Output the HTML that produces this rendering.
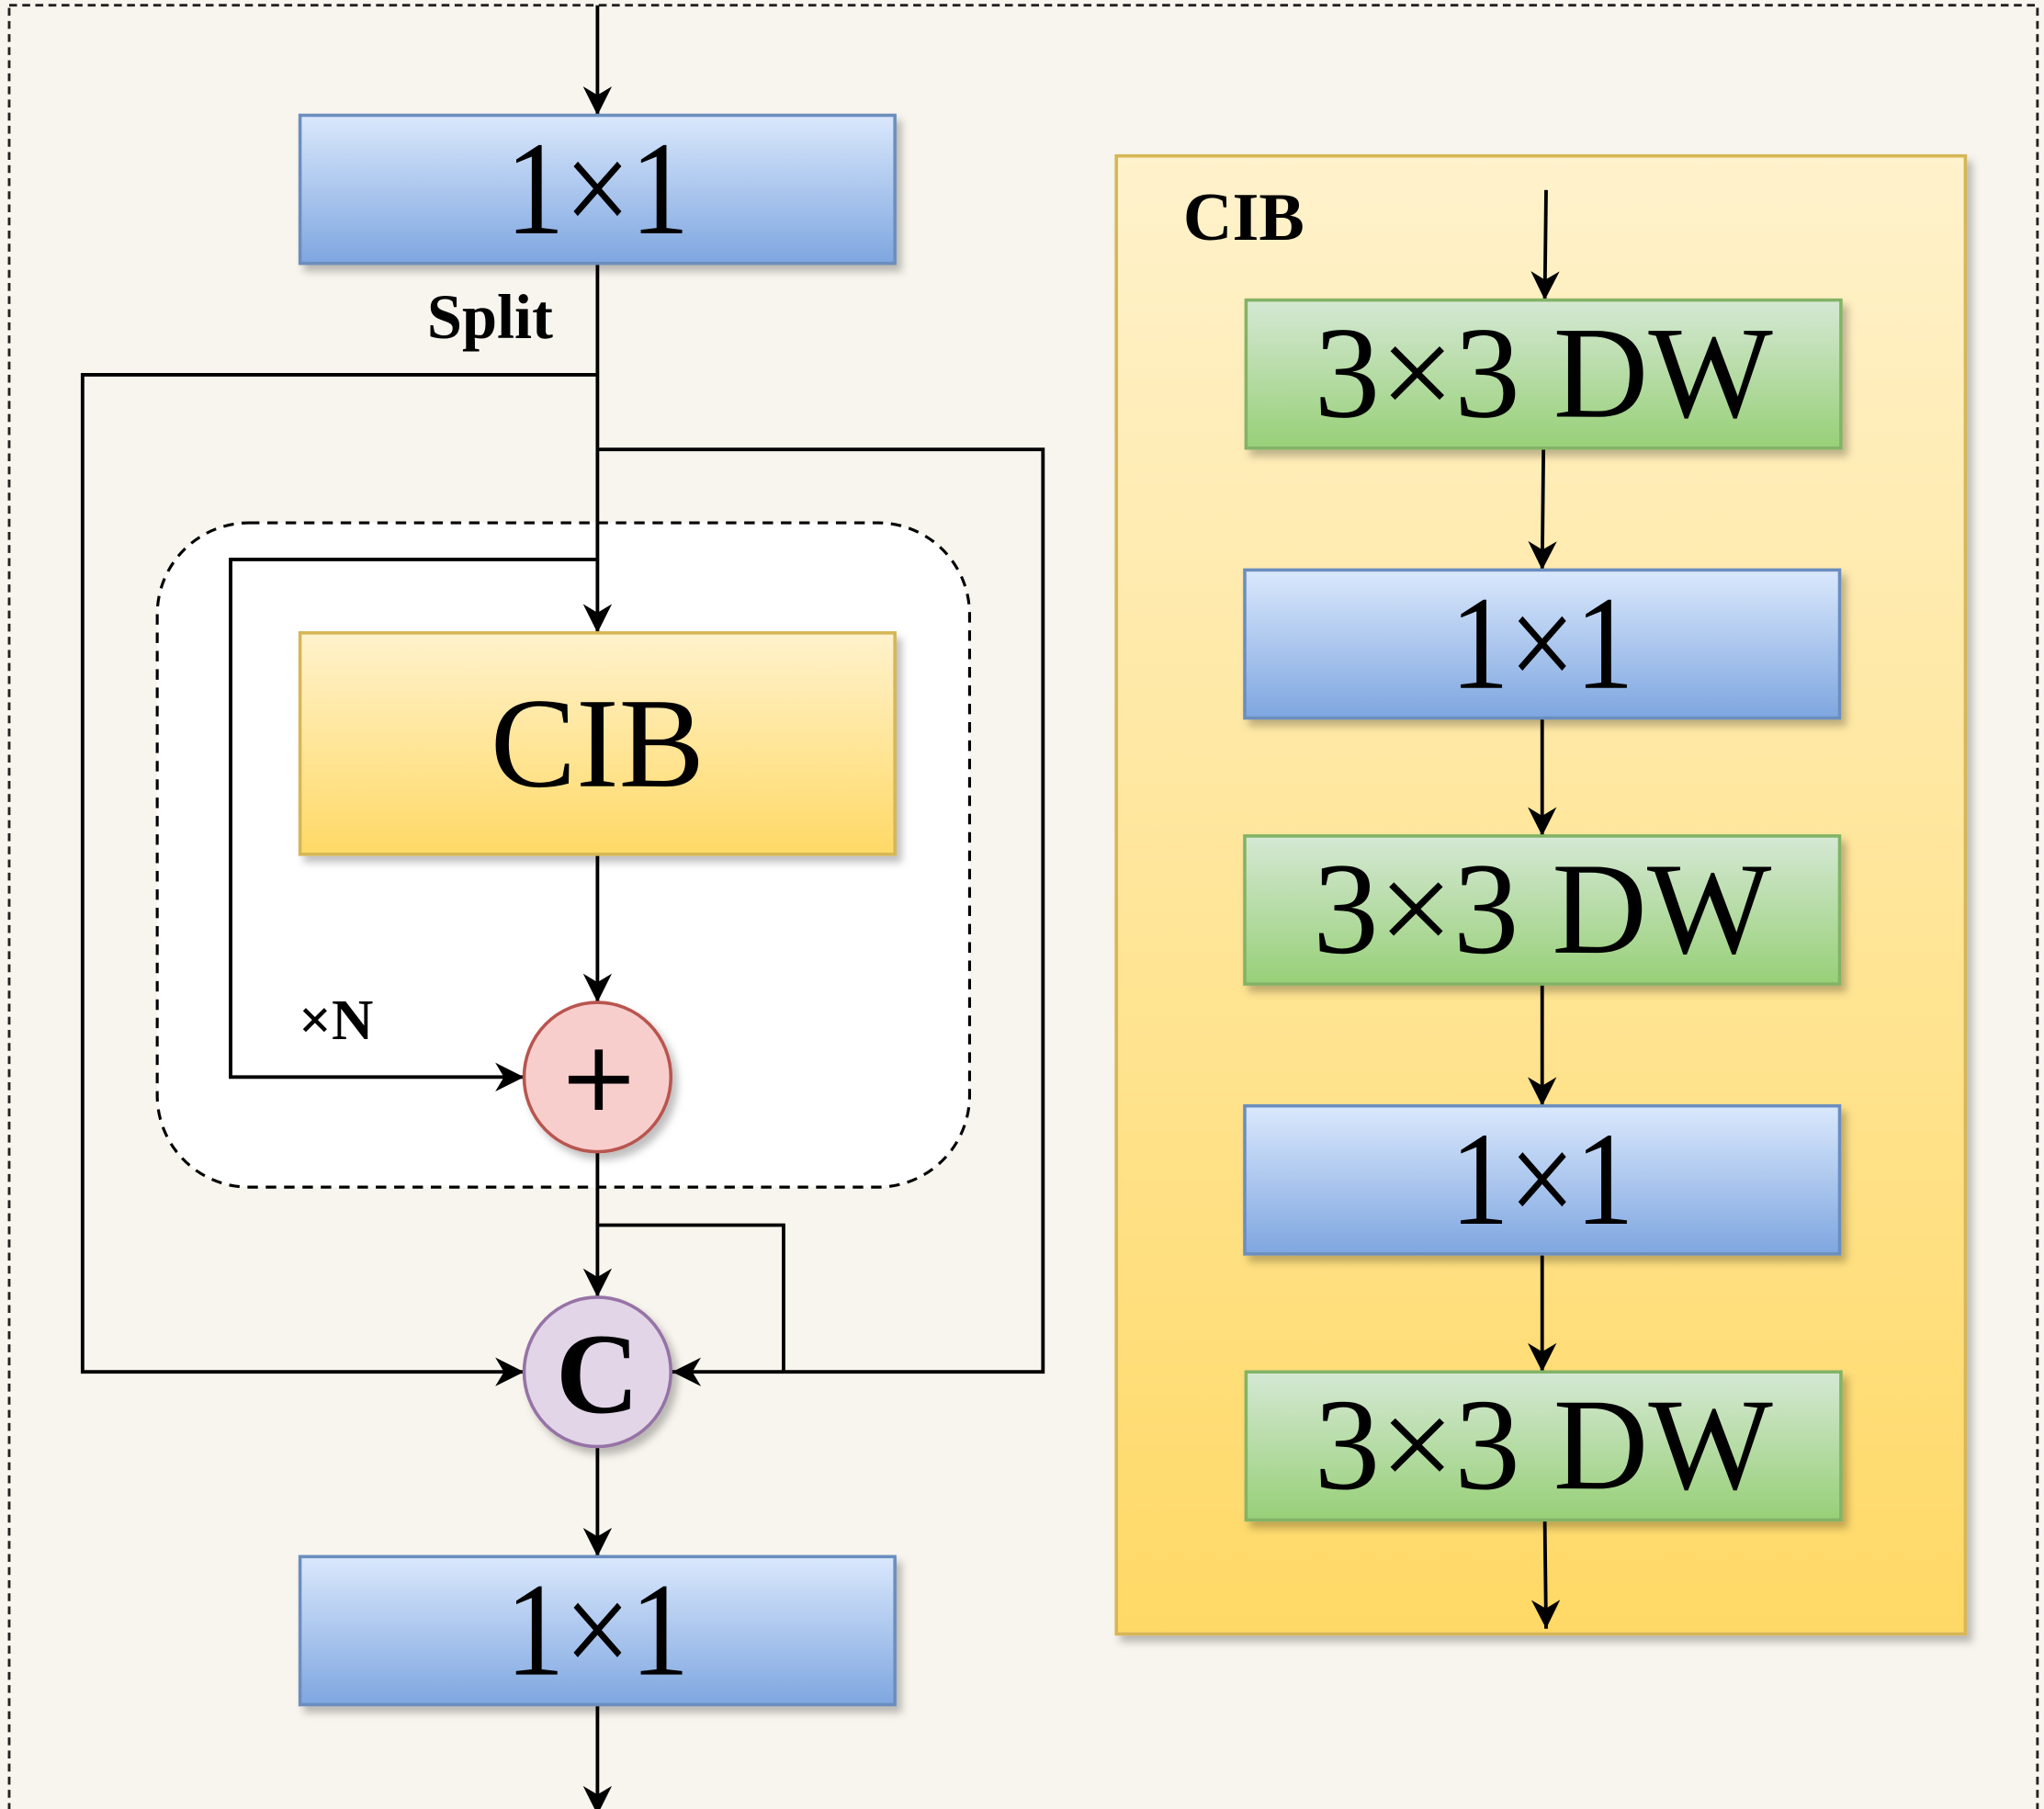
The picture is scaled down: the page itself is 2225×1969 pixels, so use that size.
<!DOCTYPE html>
<html><head><meta charset="utf-8"><style>html,body{margin:0;padding:0;background:#f8f5ee}svg{display:block}</style></head>
<body>
<svg width="2225" height="1969" viewBox="0 0 1560 1380.6" preserveAspectRatio="none" xmlns="http://www.w3.org/2000/svg" font-family="'Liberation Serif', serif">
<defs>
<linearGradient id="bl" x1="0" y1="0" x2="0" y2="1"><stop offset="0" stop-color="#dae8fc"/><stop offset="1" stop-color="#7ea6e0"/></linearGradient>
<linearGradient id="ye" x1="0" y1="0" x2="0" y2="1"><stop offset="0" stop-color="#fff2cc"/><stop offset="1" stop-color="#ffd966"/></linearGradient>
<linearGradient id="gr" x1="0" y1="0" x2="0" y2="1"><stop offset="0" stop-color="#d5e8d4"/><stop offset="1" stop-color="#97d077"/></linearGradient>
<filter id="sh" x="-10%" y="-10%" width="130%" height="140%"><feDropShadow dx="4" dy="5" stdDeviation="3" flood-color="#000" flood-opacity="0.25"/></filter>
<marker id="b" viewBox="0 0 20 20" markerWidth="22" markerHeight="22" refX="20" refY="10" orient="auto" markerUnits="userSpaceOnUse"><path d="M0,0 L20,10 L0,20 L6,10 z" fill="#000"/></marker>
</defs>
<rect x="0" y="0" width="1560" height="1381" fill="#f8f5ee"/>
<rect x="7" y="4" width="1548" height="1381" fill="none" stroke="#222" stroke-width="2" stroke-dasharray="6,4"/>

<rect x="120" y="399" width="620" height="507" rx="70" fill="#fff" stroke="#000" stroke-width="2.2" stroke-dasharray="8,6"/>

<g stroke="#000" stroke-width="2.7" fill="none">
<line x1="456" y1="4" x2="456" y2="88" marker-end="url(#b)"/>
<line x1="456" y1="201" x2="456" y2="483" marker-end="url(#b)"/>
<polyline points="456,286 63,286 63,1047 400,1047" marker-end="url(#b)"/>
<polyline points="456,343 796,343 796,1047 513,1047" marker-end="url(#b)"/>
<polyline points="456,427 176,427 176,822 400,822" marker-end="url(#b)"/>
<line x1="456" y1="652" x2="456" y2="765" marker-end="url(#b)"/>
<line x1="456" y1="878" x2="456" y2="990" marker-end="url(#b)"/>
<polyline points="456,935 598,935 598,1047"/>
<line x1="456" y1="1103" x2="456" y2="1188" marker-end="url(#b)"/>
<line x1="456" y1="1301" x2="456" y2="1385" marker-end="url(#b)"/>
</g>

<rect x="229" y="88" width="454" height="113" fill="url(#bl)" stroke="#6c8ebf" stroke-width="2.5" filter="url(#sh)"/>
<text x="456" y="178" font-size="102" text-anchor="middle" textLength="140" lengthAdjust="spacingAndGlyphs">1×1</text>
<text x="422" y="258" font-size="48" font-weight="bold" text-anchor="end">Split</text>

<rect x="229" y="483" width="454" height="169" fill="url(#ye)" stroke="#d6b656" stroke-width="2.5" filter="url(#sh)"/>
<text x="456" y="600" font-size="98" text-anchor="middle">CIB</text>

<ellipse cx="456" cy="822" rx="56" ry="57" fill="#f8cecc" stroke="#b85450" stroke-width="2.5" filter="url(#sh)"/>
<g stroke="#000" stroke-width="6"><line x1="434" y1="824" x2="480" y2="824"/><line x1="457" y1="801" x2="457" y2="847"/></g>
<text x="228" y="793" font-size="44" font-weight="bold">×N</text>

<ellipse cx="456" cy="1047" rx="56" ry="57" fill="#e1d5e7" stroke="#9673a6" stroke-width="2.5" filter="url(#sh)"/>
<text x="456" y="1078" font-size="88" font-weight="bold" text-anchor="middle">C</text>

<rect x="229" y="1188" width="454" height="113" fill="url(#bl)" stroke="#6c8ebf" stroke-width="2.5" filter="url(#sh)"/>
<text x="456" y="1278" font-size="102" text-anchor="middle" textLength="140" lengthAdjust="spacingAndGlyphs">1×1</text>

<rect x="852" y="119" width="648" height="1128" fill="url(#ye)" stroke="#d6b656" stroke-width="2.5" filter="url(#sh)"/>
<text x="903" y="183" font-size="52" font-weight="bold">CIB</text>

<g stroke="#000" stroke-width="2.7">
<line x1="1180" y1="145" x2="1179" y2="229" marker-end="url(#b)"/>
<line x1="1178" y1="342" x2="1177" y2="435" marker-end="url(#b)"/>
<line x1="1177" y1="548" x2="1177" y2="638" marker-end="url(#b)"/>
<line x1="1177" y1="751" x2="1177" y2="844" marker-end="url(#b)"/>
<line x1="1177" y1="957" x2="1177" y2="1047" marker-end="url(#b)"/>
<line x1="1179" y1="1160" x2="1180" y2="1243" marker-end="url(#b)"/>
</g>

<rect x="951" y="229" width="454" height="113" fill="url(#gr)" stroke="#82b366" stroke-width="2.5" filter="url(#sh)"/>
<text x="1178" y="318" font-size="100" text-anchor="middle" textLength="350" lengthAdjust="spacingAndGlyphs">3×3 DW</text>
<rect x="950" y="435" width="454" height="113" fill="url(#bl)" stroke="#6c8ebf" stroke-width="2.5" filter="url(#sh)"/>
<text x="1177" y="525" font-size="102" text-anchor="middle" textLength="140" lengthAdjust="spacingAndGlyphs">1×1</text>
<rect x="950" y="638" width="454" height="113" fill="url(#gr)" stroke="#82b366" stroke-width="2.5" filter="url(#sh)"/>
<text x="1177" y="727" font-size="100" text-anchor="middle" textLength="350" lengthAdjust="spacingAndGlyphs">3×3 DW</text>
<rect x="950" y="844" width="454" height="113" fill="url(#bl)" stroke="#6c8ebf" stroke-width="2.5" filter="url(#sh)"/>
<text x="1177" y="934" font-size="102" text-anchor="middle" textLength="140" lengthAdjust="spacingAndGlyphs">1×1</text>
<rect x="951" y="1047" width="454" height="113" fill="url(#gr)" stroke="#82b366" stroke-width="2.5" filter="url(#sh)"/>
<text x="1178" y="1136" font-size="100" text-anchor="middle" textLength="350" lengthAdjust="spacingAndGlyphs">3×3 DW</text>
</svg>
</body></html>
